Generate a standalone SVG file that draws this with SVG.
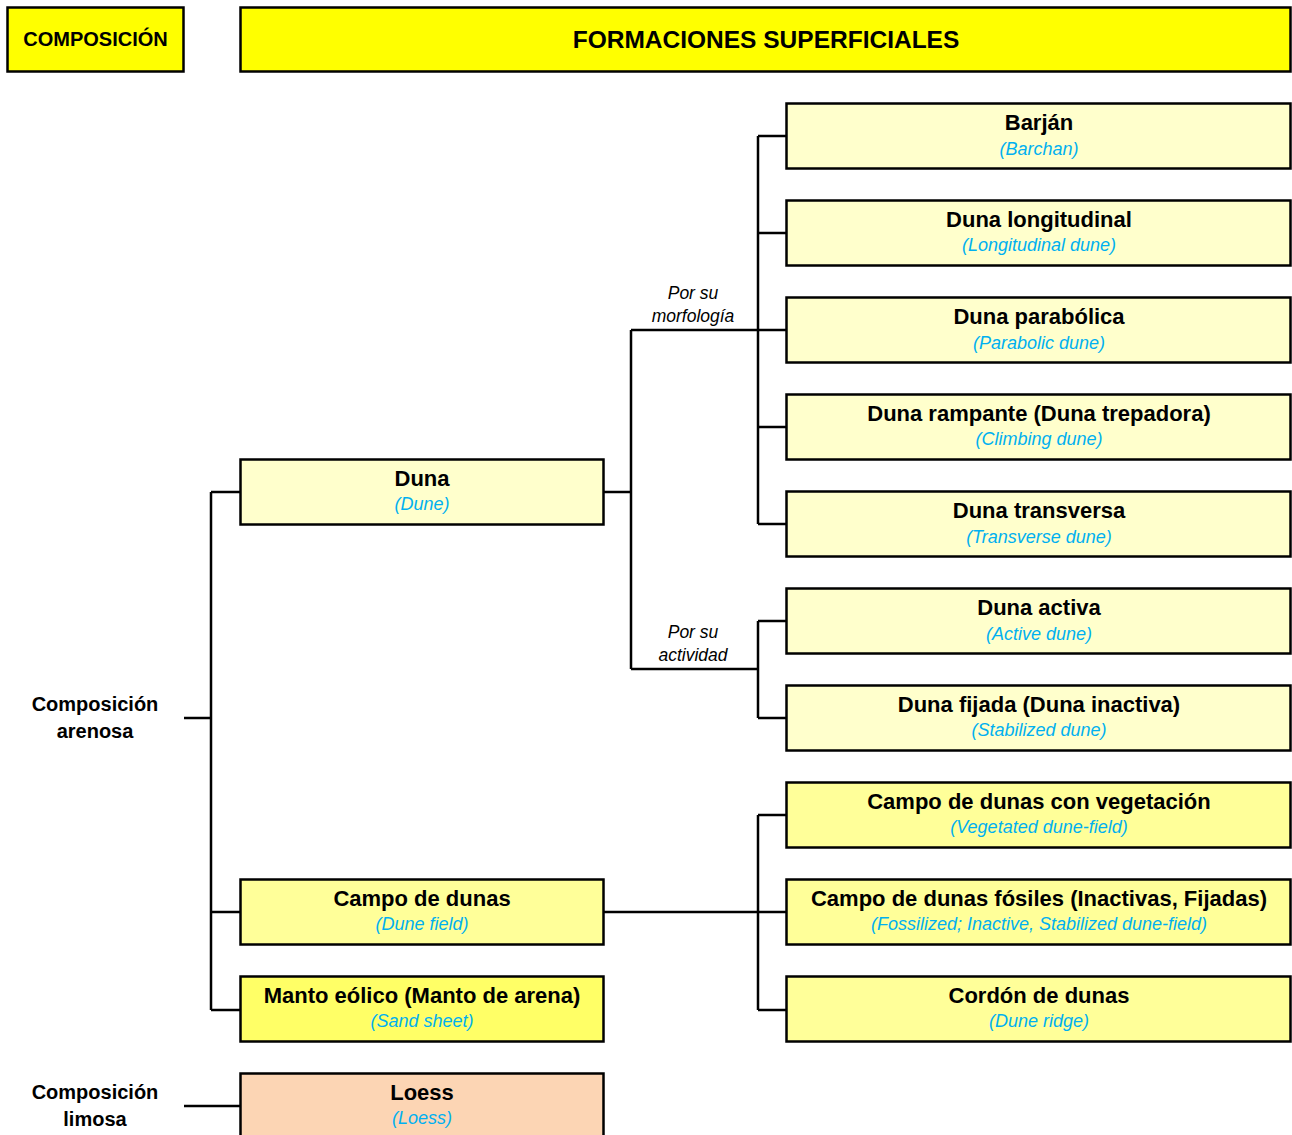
<svg xmlns="http://www.w3.org/2000/svg" width="1292" height="1135" viewBox="0 0 1292 1135">
  <style>
    .box { stroke: #000; stroke-width: 2.5; }
    .hdr { fill: #FFFF00; }
    .pale { fill: #FFFFCC; }
    .mid { fill: #FFFF99; }
    .strong { fill: #FFFF66; }
    .peach { fill: #FCD5B4; }
    .title { font-family: "Liberation Sans", Arial, sans-serif; font-weight: bold; font-size: 22px; fill: #000; text-anchor: middle; }
    .big { font-size: 24.5px; }
    .sub { font-family: "Liberation Sans", Arial, sans-serif; font-style: italic; font-size: 18px; fill: #00B0F0; text-anchor: middle; }
    .lbl { font-family: "Liberation Sans", Arial, sans-serif; font-weight: bold; font-size: 20px; fill: #000; text-anchor: middle; }
    .cat { font-family: "Liberation Sans", Arial, sans-serif; font-style: italic; font-size: 17.5px; fill: #000; text-anchor: middle; }
    .wire { stroke: #000; stroke-width: 2.5; fill: none; }
  </style>

  <rect width="1292" height="1135" fill="#FFFFFF"/>

  <!-- headers -->
  <g id="hdr-composicion">
    <rect class="box hdr" x="7.5" y="7.5" width="176" height="64"/>
    <text class="lbl" x="95.5" y="46">COMPOSICIÓN</text>
  </g>
  <g id="hdr-formaciones">
    <rect class="box hdr" x="240.5" y="7.5" width="1050" height="64"/>
    <text class="title big" x="766" y="48">FORMACIONES SUPERFICIALES</text>
  </g>

  <!-- connectors -->
  <g id="connectors">
    <!-- arenosa trunk -->
    <path class="wire" d="M184 718 H211 M211 492 V1010 M211 492 H240 M211 912 H240 M211 1010 H240"/>
    <!-- duna branches -->
    <path class="wire" d="M604 492 H631 M631 330 V669 M631 330 H786 M631 669 H758"/>
    <!-- morfologia -->
    <path class="wire" d="M758 136 V524 M758 136 H786 M758 233 H786 M758 427 H786 M758 524 H786"/>
    <!-- actividad -->
    <path class="wire" d="M758 621 V718 M758 621 H786 M758 718 H786"/>
    <!-- campo de dunas -->
    <path class="wire" d="M604 912 H786 M758 815 V1010 M758 815 H786 M758 1010 H786"/>
    <!-- limosa -->
    <path class="wire" d="M184 1106 H240"/>
  </g>

  <!-- category labels -->
  <g id="lbl-arenosa">
    <text class="lbl" x="95" y="711">Composición</text>
    <text class="lbl" x="95" y="738">arenosa</text>
  </g>
  <g id="lbl-limosa">
    <text class="lbl" x="95" y="1099">Composición</text>
    <text class="lbl" x="95" y="1126">limosa</text>
  </g>
  <g id="lbl-morfologia">
    <text class="cat" x="693" y="299">Por su</text>
    <text class="cat" x="693" y="322">morfología</text>
  </g>
  <g id="lbl-actividad">
    <text class="cat" x="693" y="638">Por su</text>
    <text class="cat" x="693" y="661">actividad</text>
  </g>

  <!-- left column -->
  <g id="n-duna">
    <rect class="box pale" x="240.5" y="459.5" width="363" height="65"/>
    <text class="title" x="422" y="486">Duna</text>
    <text class="sub" x="422" y="510">(Dune)</text>
  </g>
  <g id="n-campo">
    <rect class="box mid" x="240.5" y="879.5" width="363" height="65"/>
    <text class="title" x="422" y="906">Campo de dunas</text>
    <text class="sub" x="422" y="930">(Dune field)</text>
  </g>
  <g id="n-manto">
    <rect class="box strong" x="240.5" y="976.5" width="363" height="65"/>
    <text class="title" x="422" y="1003">Manto eólico (Manto de arena)</text>
    <text class="sub" x="422" y="1027">(Sand sheet)</text>
  </g>
  <g id="n-loess">
    <rect class="box peach" x="240.5" y="1073.5" width="363" height="70"/>
    <text class="title" x="422" y="1100">Loess</text>
    <text class="sub" x="422" y="1124">(Loess)</text>
  </g>

  <!-- right column -->
  <g id="n-barjan">
    <rect class="box pale" x="786.5" y="103.5" width="504" height="65"/>
    <text class="title" x="1039" y="130">Barján</text>
    <text class="sub" x="1039" y="155">(Barchan)</text>
  </g>
  <g id="n-longitudinal">
    <rect class="box pale" x="786.5" y="200.5" width="504" height="65"/>
    <text class="title" x="1039" y="227">Duna longitudinal</text>
    <text class="sub" x="1039" y="251">(Longitudinal dune)</text>
  </g>
  <g id="n-parabolica">
    <rect class="box pale" x="786.5" y="297.5" width="504" height="65"/>
    <text class="title" x="1039" y="324">Duna parabólica</text>
    <text class="sub" x="1039" y="349">(Parabolic dune)</text>
  </g>
  <g id="n-rampante">
    <rect class="box pale" x="786.5" y="394.5" width="504" height="65"/>
    <text class="title" x="1039" y="421">Duna rampante (Duna trepadora)</text>
    <text class="sub" x="1039" y="445">(Climbing dune)</text>
  </g>
  <g id="n-transversa">
    <rect class="box pale" x="786.5" y="491.5" width="504" height="65"/>
    <text class="title" x="1039" y="518">Duna transversa</text>
    <text class="sub" x="1039" y="543">(Transverse dune)</text>
  </g>
  <g id="n-activa">
    <rect class="box pale" x="786.5" y="588.5" width="504" height="65"/>
    <text class="title" x="1039" y="615">Duna activa</text>
    <text class="sub" x="1039" y="640">(Active dune)</text>
  </g>
  <g id="n-fijada">
    <rect class="box pale" x="786.5" y="685.5" width="504" height="65"/>
    <text class="title" x="1039" y="712">Duna fijada (Duna inactiva)</text>
    <text class="sub" x="1039" y="736">(Stabilized dune)</text>
  </g>
  <g id="n-vegetacion">
    <rect class="box mid" x="786.5" y="782.5" width="504" height="65"/>
    <text class="title" x="1039" y="809">Campo de dunas con vegetación</text>
    <text class="sub" x="1039" y="833">(Vegetated dune-field)</text>
  </g>
  <g id="n-fosiles">
    <rect class="box mid" x="786.5" y="879.5" width="504" height="65"/>
    <text class="title" x="1039" y="906">Campo de dunas fósiles (Inactivas, Fijadas)</text>
    <text class="sub" x="1039" y="930">(Fossilized; Inactive, Stabilized dune-field)</text>
  </g>
  <g id="n-cordon">
    <rect class="box mid" x="786.5" y="976.5" width="504" height="65"/>
    <text class="title" x="1039" y="1003">Cordón de dunas</text>
    <text class="sub" x="1039" y="1027">(Dune ridge)</text>
  </g>
</svg>
